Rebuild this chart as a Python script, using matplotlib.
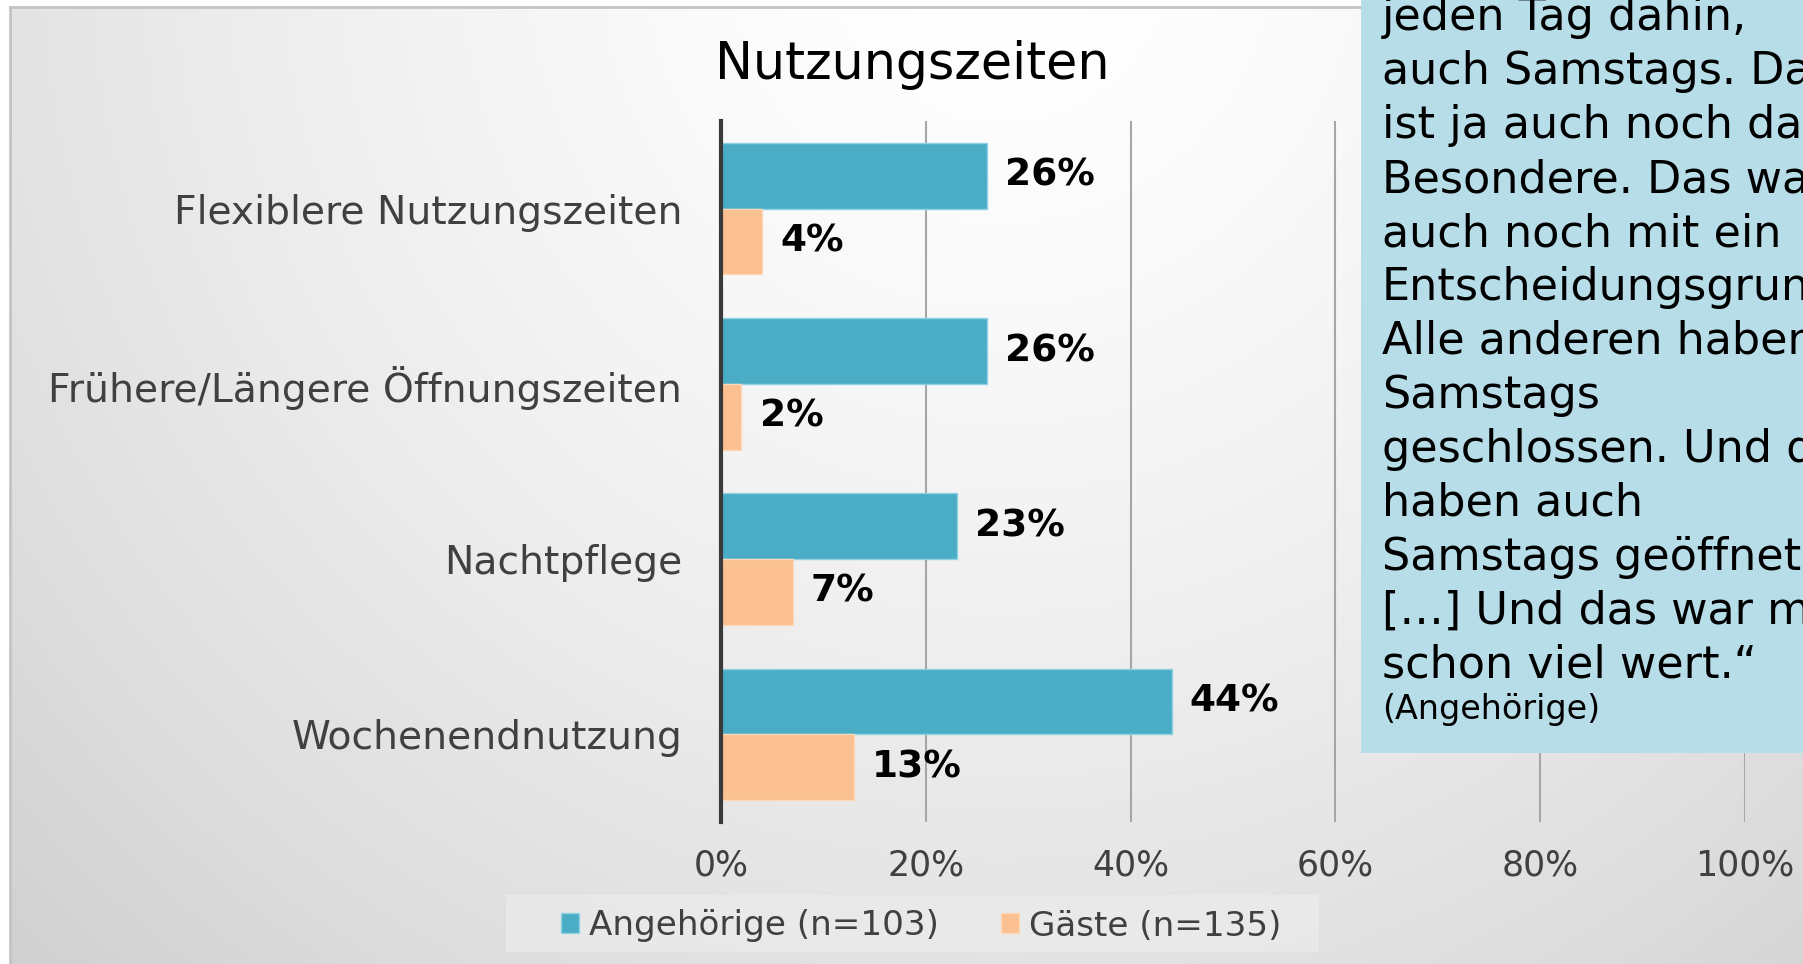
import numpy as np
import matplotlib.pyplot as plt
from matplotlib.patches import Rectangle

categories = ['Flexiblere Nutzungszeiten', 'Frühere/Längere Öffnungszeiten',
              'Nachtpflege', 'Wochenendnutzung']
angehoerige = [26, 26, 23, 44]
gaeste = [4, 2, 7, 13]
series_names = ['Angehörige (n=103)', 'Gäste (n=135)']
xticks = [0, 20, 40, 60, 80, 100]
title = 'Nutzungszeiten'
quote_lines = ['jeden Tag dahin,', 'auch Samstags. Das', 'ist ja auch noch das',
               'Besondere. Das war', 'auch noch mit ein', 'Entscheidungsgrund.',
               'Alle anderen haben', 'Samstags', 'geschlossen. Und die',
               'haben auch', 'Samstags geöffnet.', '[…] Und das war mir',
               'schon viel wert.“']
quote_source = '(Angehörige)'

c_ang = '#4bacc6'
c_gae = '#fac090'
c_box = '#b7dde8'
c_txt = '#404040'

W, H = 1803, 964
fig = plt.figure(figsize=(W / 100, H / 100), dpi=100)
fig.patch.set_facecolor('white')

# slide background: soft gradient, white near the title, grey towards the edges
bg = fig.add_axes([0, 0, 1, 1], zorder=0)
yy, xx = np.mgrid[7:H, 10:W]
r = np.hypot(xx - 1000, yy + 50) / 1420
shade = (255 - 47 * np.clip(r, 0, 1.2) ** 1.5) / 255
bg.imshow(np.dstack([shade] * 3), extent=(10, W, H, 7), aspect='auto', interpolation='bilinear')
bg.plot([10, 10], [7, H], color='#c4c4c4', lw=2)
bg.plot([10, W], [7, 7], color='#c4c4c4', lw=2)
bg.add_patch(Rectangle((506, 895), 813, 57, facecolor='#ebebeb', edgecolor='none', alpha=0.8))
bg.set_xlim(0, W)
bg.set_ylim(H, 0)
bg.axis('off')

ax = fig.add_axes([721 / W, 1 - 822 / H, 1024 / W, 701 / H], zorder=1)
ax.patch.set_alpha(0)
y = np.arange(len(categories))
h = 0.375
b1 = ax.barh(y - h / 2, angehoerige, height=h, color=c_ang, edgecolor='#8ed2e3', linewidth=1)
b2 = ax.barh(y + h / 2, gaeste, height=h, color=c_gae, edgecolor='#fdd9b8', linewidth=1)
ax.bar_label(b1, labels=[f'{v}%' for v in angehoerige], padding=13, fontsize=27, fontweight='bold')
ax.bar_label(b2, labels=[f'{v}%' for v in gaeste], padding=13, fontsize=27, fontweight='bold')

ax.set_xlim(0, 100)
ax.set_ylim(3.5, -0.5)
ax.set_xticks(xticks)
ax.set_xticklabels([f'{t}%' for t in xticks])
ax.set_yticks(y)
ax.set_yticklabels(categories)
ax.tick_params(axis='x', length=0, pad=19, labelsize=25, labelcolor=c_txt)
ax.tick_params(axis='y', length=0, pad=28, labelsize=28.3, labelcolor=c_txt)
ax.grid(axis='x', color='#a6a6a6', lw=1.5)
ax.set_axisbelow(True)
for s in ['top', 'right', 'bottom']:
    ax.spines[s].set_visible(False)
ax.spines['left'].set_color('#3a3a3a')
ax.spines['left'].set_linewidth(3)

fig.text(912 / W, 1 - 65 / H, title, ha='center', va='center', fontsize=36.5, color='black')

fig.legend(handles=[b1, b2], labels=series_names, loc='center',
           bbox_to_anchor=(921 / W, 1 - 926 / H), ncol=2, frameon=False,
           fontsize=24.6, handlelength=0.53, handleheight=0.53, handletextpad=0.3,
           columnspacing=1.8, labelcolor=c_txt)

# quote box, cut off by the right and top edge of the slide
qa = fig.add_axes([1361 / W, 1 - 753 / H, (W - 1361) / W, 753 / H], zorder=3)
qa.set_facecolor(c_box)
qa.set_xlim(0, W - 1361)
qa.set_ylim(753, 0)
qa.set_xticks([])
qa.set_yticks([])
for s in qa.spines.values():
    s.set_visible(False)
for i, line in enumerate(quote_lines):
    qa.text(21, 30 + 54 * i, line, fontsize=32, va='baseline', clip_on=True)
qa.text(21, 719, quote_source, fontsize=24, va='baseline', clip_on=True)

fig.savefig('out.png', dpi=100)
